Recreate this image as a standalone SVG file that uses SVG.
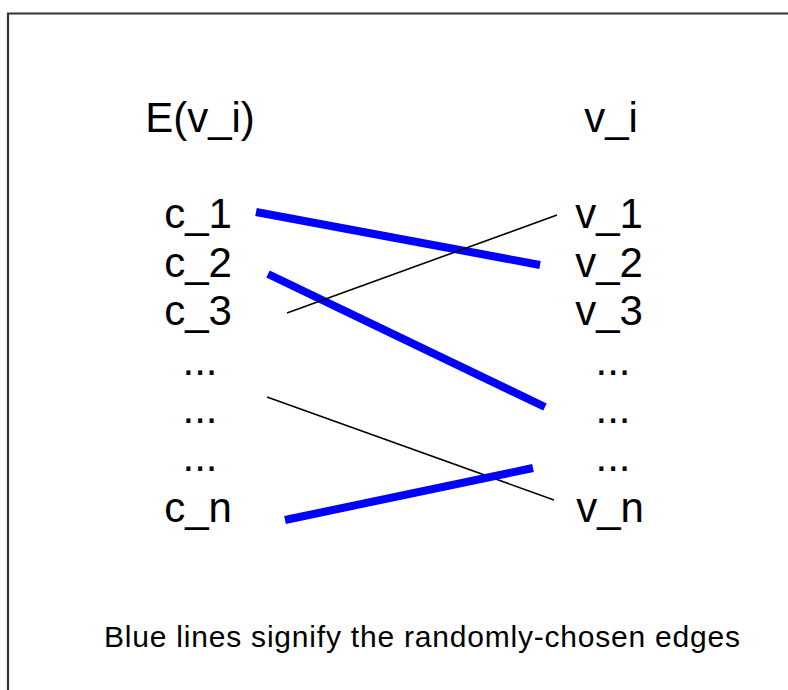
<svg xmlns="http://www.w3.org/2000/svg" width="788" height="690" viewBox="0 0 788 690">
<style>
.lbl{font-family:"Liberation Sans",Arial,sans-serif;font-size:42px;fill:#000;text-anchor:middle}
.cap{font-family:"Liberation Sans",Arial,sans-serif;font-size:30px;fill:#000}
.blue{stroke:#0000ff;stroke-width:8;fill:none}
.thin{stroke:#000;stroke-width:1.6;fill:none}
</style>
<rect width="788" height="690" fill="#fff"/>
<path d="M8,690 V13.5 H788" fill="none" stroke="#333" stroke-width="2.2"/>
<g id="left-header"><text class="lbl" x="200" y="132">E(v_i)</text></g>
<g id="right-header"><text class="lbl" x="611" y="132">v_i</text></g>
<g id="c1"><text class="lbl" x="198" y="228">c_1</text></g>
<g id="c2"><text class="lbl" x="198" y="277">c_2</text></g>
<g id="c3"><text class="lbl" x="198" y="325">c_3</text></g>
<g id="cdots1"><text class="lbl" x="200" y="375">...</text></g>
<g id="cdots2"><text class="lbl" x="200" y="423">...</text></g>
<g id="cdots3"><text class="lbl" x="200" y="471">...</text></g>
<g id="cn"><text class="lbl" x="198" y="522">c_n</text></g>
<g id="v1"><text class="lbl" x="609" y="228">v_1</text></g>
<g id="v2"><text class="lbl" x="609" y="277">v_2</text></g>
<g id="v3"><text class="lbl" x="609" y="325">v_3</text></g>
<g id="vdots1"><text class="lbl" x="613" y="375">...</text></g>
<g id="vdots2"><text class="lbl" x="613" y="423">...</text></g>
<g id="vdots3"><text class="lbl" x="613" y="471">...</text></g>
<g id="vn"><text class="lbl" x="610" y="522">v_n</text></g>
<g id="connectors">
<line class="blue" x1="256" y1="212" x2="540" y2="265"/>
<line class="blue" x1="268" y1="274" x2="545" y2="407"/>
<line class="thin" x1="287" y1="313" x2="557" y2="215"/>
<line class="thin" x1="267" y1="397" x2="554" y2="500"/>
<line class="blue" x1="285" y1="520" x2="533" y2="468"/>
</g>
<g id="caption"><text class="cap" x="104" y="647" textLength="636" lengthAdjust="spacing">Blue lines signify the randomly-chosen edges</text></g>
</svg>
